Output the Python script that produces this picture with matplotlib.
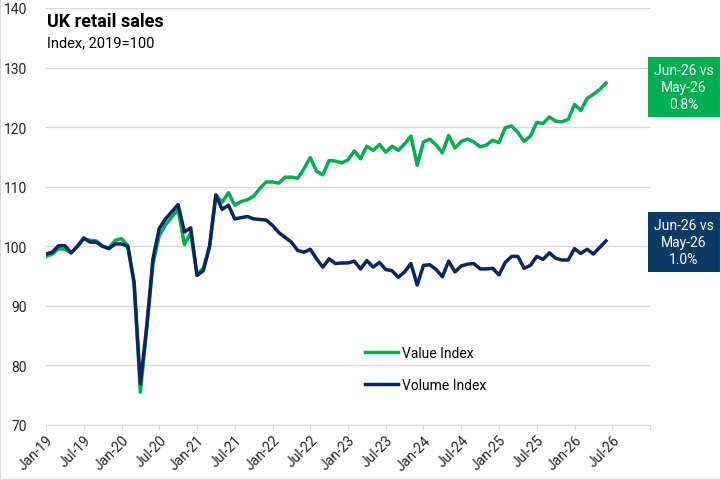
import matplotlib
matplotlib.use("Agg")
import matplotlib.pyplot as plt
import numpy as np
from matplotlib.patches import Rectangle

# Monthly index values, Jan-19 .. Jun-26 (2019 = 100)
value_index = [
    98.3, 98.7, 99.6, 99.5, 98.9, 100.0, 101.2, 101.0, 100.9, 100.0, 99.7, 101.0,
    101.3, 100.1, 93.7, 75.5, 86.0, 97.0, 101.8, 103.6, 104.9, 106.2, 100.3, 102.2,
    95.3, 96.3, 100.0, 108.6, 107.4, 109.0, 106.9, 107.5, 107.8, 108.4, 109.7, 110.8,
    110.8, 110.6, 111.6, 111.6, 111.4, 113.0, 114.9, 112.6, 112.0, 114.4, 114.3, 114.0,
    114.5, 116.0, 114.7, 116.8, 116.1, 117.1, 115.8, 116.8, 116.1, 117.2, 118.5, 113.6,
    117.5, 118.0, 117.0, 115.7, 118.6, 116.5, 117.6, 118.0, 117.5, 116.7, 117.0, 117.8,
    117.4, 119.9, 120.2, 119.1, 117.6, 118.5, 120.8, 120.6, 121.7, 121.0, 120.9, 121.3,
    123.8, 122.8, 124.8, 125.5, 126.3, 127.4,
]
volume_index = [
    98.7, 99.0, 100.1, 100.1, 98.9, 100.0, 101.4, 100.7, 100.7, 100.0, 99.6, 100.4,
    100.4, 100.0, 94.0, 76.9, 86.5, 97.9, 103.0, 104.6, 105.8, 107.0, 102.4, 103.1,
    95.1, 95.9, 100.0, 108.6, 106.2, 106.9, 104.6, 104.8, 105.0, 104.6, 104.5, 104.4,
    103.5, 102.3, 101.5, 100.7, 99.3, 99.0, 99.5, 97.9, 96.5, 97.9, 97.1, 97.2,
    97.2, 97.5, 96.2, 97.6, 96.5, 97.3, 96.1, 95.9, 94.8, 95.7, 97.1, 93.5,
    96.8, 96.9, 96.1, 94.9, 97.5, 95.7, 96.7, 97.0, 97.1, 96.2, 96.2, 96.3,
    95.2, 97.3, 98.3, 98.3, 96.3, 96.8, 98.3, 97.8, 98.9, 98.0, 97.7, 97.7,
    99.6, 98.8, 99.5, 98.7, 99.8, 100.9,
]
tick_labels = ["Jan-19", "Jul-19", "Jan-20", "Jul-20", "Jan-21", "Jul-21", "Jan-22", "Jul-22",
               "Jan-23", "Jul-23", "Jan-24", "Jul-24", "Jan-25", "Jul-25", "Jan-26", "Jul-26"]
value_note = "Jun-26 vs\nMay-26\n0.8%"
volume_note = "Jun-26 vs\nMay-26\n1.0%"

green = "#00b050"
navy = "#0b2463"
navy_box = "#0b3b66"
grey = "#d9d9d9"
text_col = "#262626"

plt.rcParams['font.family'] = ['Roboto', 'DejaVu Sans']

fig = plt.figure(figsize=(7.21, 4.81), dpi=100)
ax = fig.add_axes([46/721, 55/481, 604/721, 417/481])

x = np.arange(len(value_index))
ax.plot(x, value_index, color=green, lw=2.5, label="Value Index", solid_joinstyle="round")
ax.plot(x, volume_index, color=navy, lw=2.5, label="Volume Index", solid_joinstyle="round")

ax.set_ylim(70, 140)
ax.set_yticks(range(70, 141, 10))
ax.grid(axis="y", color=grey, lw=1)
ax.set_axisbelow(True)
for s in ["top", "right", "left"]:
    ax.spines[s].set_visible(False)
ax.spines["bottom"].set_color(grey)
# pads / lengths are in points (0.72 pt per pixel at 100 dpi)
ax.tick_params(axis="y", length=0, pad=13.5, labelsize=10, labelcolor=text_col)

ax.set_xlim(0, 96)
ax.set_xticks(range(0, 97, 6))
ax.set_xticklabels(tick_labels + [""])
ax.tick_params(axis="x", length=3.6, color=grey, labelsize=10, labelcolor=text_col, pad=2)
plt.setp(ax.get_xticklabels(), rotation=45, ha="right", rotation_mode="anchor")

ax.legend(loc="upper left", bbox_to_anchor=(358/721, 1 - 340/481), bbox_transform=fig.transFigure,
          frameon=False, handlelength=2.4, handletextpad=0.3, labelspacing=1.3, borderpad=0,
          fontsize=10)

# titles
fig.text(47/721, 1 - 27/481, "UK retail sales", fontsize=13, fontweight="bold", color="black", va="baseline")
fig.text(47/721, 1 - 47/481, "Index, 2019=100", fontsize=10.5, color="black", va="baseline")

# call-out boxes on the right
fig.add_artist(Rectangle((648/721, 1 - 118/481), 72/721, 60/481, transform=fig.transFigure,
                         facecolor=green, edgecolor="none"))
fig.text(684/721, 1 - 88/481, value_note, color="white", fontsize=10, ha="center", va="center",
         multialignment="center", linespacing=1.3)
fig.add_artist(Rectangle((648/721, 1 - 273/481), 72/721, 60/481, transform=fig.transFigure,
                         facecolor=navy_box, edgecolor="none"))
fig.text(684/721, 1 - 243/481, volume_note, color="white", fontsize=10, ha="center", va="center",
         multialignment="center", linespacing=1.3)

# chart border
fig.add_artist(Rectangle((0, 0), 1, 1, transform=fig.transFigure, fill=False, edgecolor=grey, lw=1.5))

fig.savefig("out.png", dpi=100)
